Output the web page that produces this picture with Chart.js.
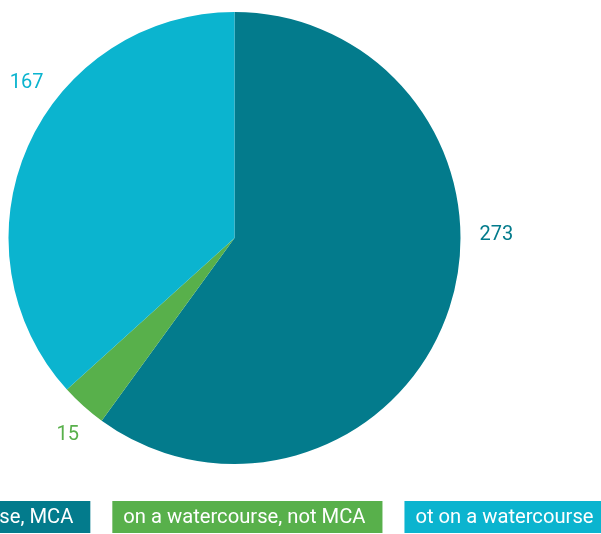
<!DOCTYPE html>
<html>
<head>
<meta charset="utf-8">
<script src="https://cdn.jsdelivr.net/npm/chart.js@4/dist/chart.umd.min.js"></script>
<style>
  html, body { margin: 0; padding: 0; background: #ffffff; overflow: hidden; }
  #wrap { width: 601px; height: 534px; position: relative; }
</style>
</head>
<body>
<div id="wrap"><canvas id="c" width="601" height="534"></canvas></div>
<script>
// Pie of sites by watercourse category
const categories = ["on a watercourse, MCA", "on a watercourse, not MCA", "ot on a watercourse"];
const counts = [273, 15, 167];
const colours = ["#037B8C", "#58B04B", "#0BB4CF"];

// label placement tweaks (degrees along the rim, px outside the rim)
const labelAngleShift = [-19, -1.5, 13];
const labelGap = [36, 31, 34];

const FONT = "Roboto, 'Noto Sans', sans-serif";

const sliceLabels = {
  id: "sliceLabels",
  afterDatasetsDraw(chart) {
    const ctx = chart.ctx;
    const meta = chart.getDatasetMeta(0);
    ctx.save();
    ctx.font = "20px " + FONT;
    ctx.textAlign = "center";
    ctx.textBaseline = "middle";
    meta.data.forEach((arc, i) => {
      const p = arc.getProps(["x", "y", "startAngle", "endAngle", "outerRadius"], true);
      const mid = (p.startAngle + p.endAngle) / 2 + labelAngleShift[i] * Math.PI / 180;
      const r = p.outerRadius + labelGap[i];
      ctx.fillStyle = colours[i];
      ctx.fillText(String(counts[i]), p.x + Math.cos(mid) * r, p.y + Math.sin(mid) * r + 1.5);
    });
    ctx.restore();
  }
};

const boxLegend = {
  id: "boxLegend",
  afterDraw(chart) {
    const ctx = chart.ctx;
    const padL = 11, padR = 17, gap = 22, top = 501, h = 32;
    ctx.save();
    ctx.font = "20.2px " + FONT;
    const widths = categories.map(t => ctx.measureText(t).width + padL + padR);
    const total = widths.reduce((a, b) => a + b, 0) + gap * (categories.length - 1);
    const cx = (chart.chartArea.left + chart.chartArea.right) / 2;
    let x = cx - total / 2 - 2;
    ctx.textBaseline = "middle";
    ctx.textAlign = "left";
    categories.forEach((t, i) => {
      ctx.fillStyle = colours[i];
      ctx.fillRect(x, top, widths[i], h);
      ctx.fillStyle = "#ffffff";
      ctx.fillText(t, x + padL, top + h / 2 + 1);
      x += widths[i] + gap;
    });
    ctx.restore();
  }
};

new Chart(document.getElementById("c"), {
  type: "pie",
  data: {
    labels: categories,
    datasets: [{
      data: counts,
      backgroundColor: colours,
      borderWidth: 0,
      hoverOffset: 0
    }]
  },
  options: {
    responsive: false,
    animation: false,
    layout: { padding: { left: 8, right: 140, top: 12, bottom: 70 } },
    plugins: {
      legend: { display: false },
      tooltip: { enabled: false }
    }
  },
  plugins: [sliceLabels, boxLegend]
});
</script>
</body>
</html>
